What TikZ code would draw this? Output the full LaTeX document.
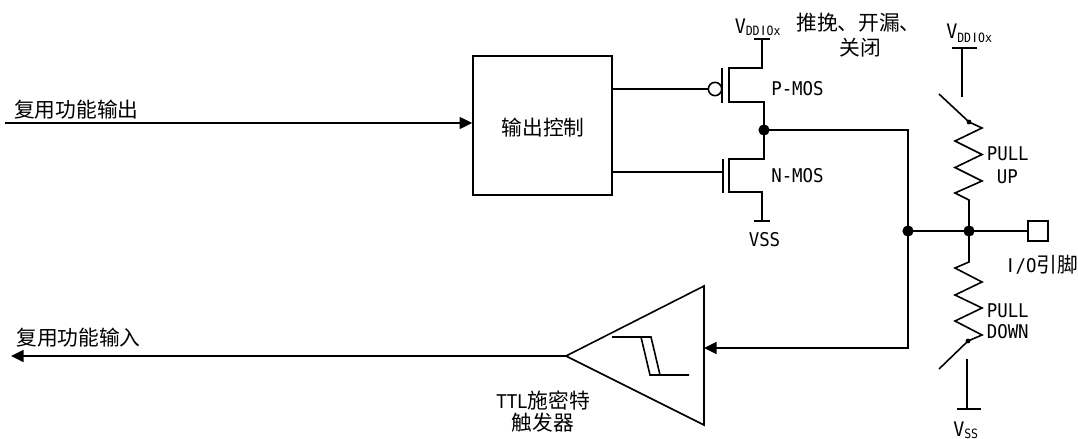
\documentclass[tikz,border=0pt]{standalone}
\usepackage{fontspec}
\usetikzlibrary{arrows.meta}
\setmainfont{Noto Sans CJK SC}
\newfontfamily\lat[FakeStretch=0.92]{DejaVu Sans Mono}
\newfontfamily\latsub[FakeStretch=0.9]{DejaVu Sans Mono}
\newfontfamily\plainsans{DejaVu Sans}
\newcommand{\plainI}{\hbox to 0.55em{\hss{\plainsans I}\hss}}
\newcommand{\cjksize}{\fontsize{15.55pt}{18pt}\selectfont}
\newcommand{\latsize}{\lat\fontsize{14.2pt}{18pt}\selectfont}
\newcommand{\voltsize}{\lat\fontsize{15pt}{18pt}\selectfont}
\newcommand{\subsize}{\latsub\fontsize{9.6pt}{12pt}\selectfont}
\tikzset{
  wire/.style={line width=1.2pt,line cap=butt,line join=miter},
  arrowwire/.style={wire,-{Triangle[length=9.5pt,width=9pt]}},
  junction/.style={circle,fill=black,inner sep=0pt,minimum size=8.4pt},
  smalldot/.style={circle,fill=black,inner sep=0pt,minimum size=3.6pt},
  cjk/.style={inner sep=0pt,anchor=base west,font=\cjksize},
  latin/.style={inner sep=0pt,anchor=base west,font=\latsize},
  vmain/.style={inner sep=0pt,anchor=base west,font=\voltsize},
  vsub/.style={inner sep=0pt,anchor=base west,font=\subsize},
}
\begin{document}
\begin{tikzpicture}[x=0.75pt,y=-0.75pt]
\useasboundingbox (0,0) rectangle (1078,439);

% output control
\node[draw,wire,minimum width=104.25pt,minimum height=104.25pt,inner sep=0pt] (box) at (542.5,125.5) {};
\node[cjk] (ctl) at (501.5,135) {输出控制};
\coordinate (inL) at (5,123);
\draw[arrowwire] (inL) -- (inL -| box.west);
\node[cjk] (altout) at (14,117) {复用功能输出};

% P-MOS
\node[draw,wire,circle,inner sep=0pt,minimum size=10pt] (bub) at (715,89) {};
\draw[wire] (bub.west) -- (bub.west -| box.east);
\coordinate (pgT) at (722,68); \coordinate (pgB) at (722,103);
\draw[wire] (pgT) -- (pgB);
\coordinate (vddP) at (762,39);
\coordinate (pbarL) at (754,39); \coordinate (pbarR) at (770,39);
\draw[wire] (pbarL) -- (pbarR);
\node[junction] (out) at (764,130) {};
\coordinate (chPT) at (729,68); \coordinate (chPB) at (729,102);
\draw[wire] (vddP) -- (762,68) -- (chPT) -- (chPB) -- (764,102) -- (out.center);

% N-MOS
\coordinate (chNT) at (729,159); \coordinate (chNB) at (729,192);
\coordinate (vssN) at (762,221);
\draw[wire] (out.center) -- (764,159) -- (chNT) -- (chNB) -- (762,192) -- (vssN);
\coordinate (nbarL) at (754,221); \coordinate (nbarR) at (770,221);
\draw[wire] (nbarL) -- (nbarR);
\coordinate (ngT) at (723,159); \coordinate (ngB) at (723,193); \coordinate (ngM) at (723,172);
\draw[wire] (ngT) -- (ngB);
\draw[wire] (ngM) -- (ngM -| box.east);

% bus
\node[junction] (j1) at (908,231) {};
\node[junction] (j2) at (969,231) {};
\node[draw,wire,minimum size=15pt,inner sep=0pt] (pin) at (1038,231) {};
\draw[wire] (out.center) -- (908,130) -- (j1.center);
\draw[wire] (j1.center) -- (j2.center) -- (pin.west);

% pull up
\coordinate (vddR) at (962,48);
\coordinate (rbarL) at (952,48); \coordinate (rbarR) at (977,48);
\draw[wire] (rbarL) -- (rbarR);
\coordinate (vddRe) at (962,97);
\draw[wire] (vddR) -- (vddRe);
\node[smalldot] (sw1) at (969,122) {};
\coordinate (sw1f) at (939,94);
\draw[wire] (sw1f) -- (sw1.center);
\draw[wire] (sw1.center) -- (982,128) -- (955,141) -- (982,154.5) -- (955,167.5) -- (982,181) -- (955,193) -- (969,200) -- (j2.center);

% pull down
\node[smalldot] (sw2) at (968,341) {};
\draw[wire] (j2.center) -- (969,262) -- (955,268) -- (982,282) -- (955,295) -- (982,308) -- (955,321) -- (982,335) -- (sw2.center);
\coordinate (sw2f) at (939,369);
\draw[wire] (sw2.center) -- (sw2f);
\coordinate (vssR) at (967,359); \coordinate (vssRb) at (967,409);
\draw[wire] (vssR) -- (vssRb);
\coordinate (vbarL) at (957,409); \coordinate (vbarR) at (981,409);
\draw[wire] (vbarL) -- (vbarR);

% Schmitt trigger
\coordinate (triT) at (704,286); \coordinate (triB) at (704,425); \coordinate (triA) at (566,356);
\draw[wire,line join=miter] (triT) -- (triB) -- (triA) -- cycle;
\coordinate (triIn) at (704,348);
\draw[arrowwire] (j1.center) -- (908,348) -- (triIn);
\coordinate (altin) at (11,356);
\draw[arrowwire] (triA) -- (altin);
\draw[wire] (612,337) -- (651,337) -- (660,375);
\draw[wire] (641,337) -- (650,375) -- (689,375);

% labels
\node[cjk] (altinl) at (16,345) {复用功能输入};
\node[cjk] (mode1) at (796,30) {推挽、开漏、};
\node[cjk] (mode2) at (839.5,55) {关闭};
\node[latin] (pmos) at (771,95) {P-MOS};
\node[latin] (nmos) at (771,182) {N-MOS};
\node[latin] (vssc) at (748.5,246) {VSS};
\node[vmain] (v1) at (734.5,33) {V};
\node[vsub] (v1s) at (745.5,36) {DD\plainI Ox};
\node[vmain] (v2) at (946,38) {V};
\node[vsub] (v2s) at (957,42) {DD\plainI Ox};
\node[vmain] (v3) at (953,436) {V};
\node[vsub] (v3s) at (964,438) {SS};
\node[latin] (pu1) at (986.5,160) {PULL};
\node[latin] (pu2) at (996.5,183) {UP};
\node[latin] (pd1) at (986.5,317) {PULL};
\node[latin] (pd2) at (986.5,338) {DOWN};
\node[latin] (iol) at (1005,272) {\plainI/O{\normalfont\cjksize 引脚}};
\node[latin] (ttl) at (496,408) {TTL{\normalfont\cjksize 施密特}};
\node[cjk] (ttl2) at (511.5,430) {触发器};
\end{tikzpicture}
\end{document}
